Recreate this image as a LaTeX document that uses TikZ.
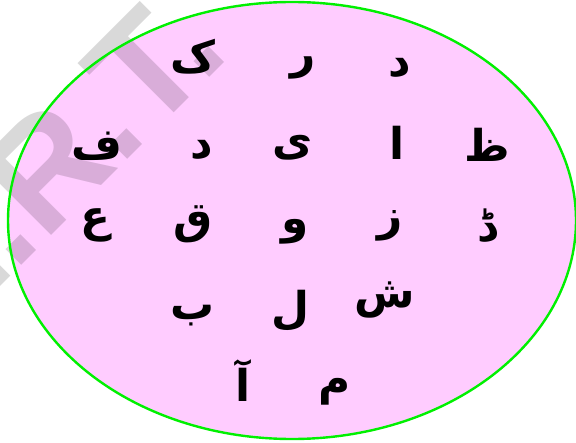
\documentclass[tikz,border=0pt]{standalone}
\usepackage{fontspec}
\setmainfont{Liberation Sans}
\newfontfamily\arabicfont[Script=Arabic]{DejaVu Sans}
\TeXXeTstate=1
\definecolor{pinkfill}{HTML}{FFCCFF}
\definecolor{rimgreen}{HTML}{00F000}
\tikzset{
  harf/.style={inner sep=0pt, font=\arabicfont\bfseries\fontsize{44}{46}\selectfont, text=black},
  wmark/.style={inner sep=0pt, rotate=45, text=black, text opacity=0.15, font=\bfseries\fontsize{150}{150}\selectfont},
  rim/.style={draw=rimgreen, line width=2.4bp}
}
\begin{document}
\begin{tikzpicture}[x=1bp,y=-1bp]
\useasboundingbox (0,0) rectangle (576,443);
\fill[pinkfill] (292,220.5) ellipse [x radius=284bp, y radius=218.5bp];
\node[wmark] (wm) at (-54,268) {N.C.E.R.T.};
\draw[rim] (292,220.5) ellipse [x radius=284bp, y radius=218.5bp];
% row 1
\node[harf] (k)  at (193,57)  {\beginR ک\endR};
\node[harf] (r)  at (303,68)  {\beginR ر\endR};
\node[harf] (d1) at (400,68)  {\beginR د\endR};
% row 2
\node[harf] (f)  at (97,146)  {\beginR ف\endR};
\node[harf] (d2) at (202,150) {\beginR د\endR};
\node[harf] (y)  at (293,148) {\beginR ی\endR};
\node[harf] (a)  at (397,143) {\beginR ا\endR};
\node[harf] (zo) at (487,145) {\beginR ظ\endR};
% row 3
\node[harf] (ain) at (95,225) {\beginR ع\endR};
\node[harf] (q)  at (193,224) {\beginR ق\endR};
\node[harf] (w)  at (295,232) {\beginR و\endR};
\node[harf] (z)  at (390,226) {\beginR ز\endR};
\node[harf] (dd) at (487,226) {\beginR ڈ\endR};
% row 4
\node[harf] (b)  at (193,316) {\beginR ب\endR};
\node[harf] (l)  at (291,311) {\beginR ل\endR};
\node[harf] (sh) at (385,300) {\beginR ش\endR};
% row 5
\node[harf] (aa) at (243,381) {\beginR آ\endR};
\node[harf] (m)  at (335,392) {\beginR م\endR};
\end{tikzpicture}
\end{document}
